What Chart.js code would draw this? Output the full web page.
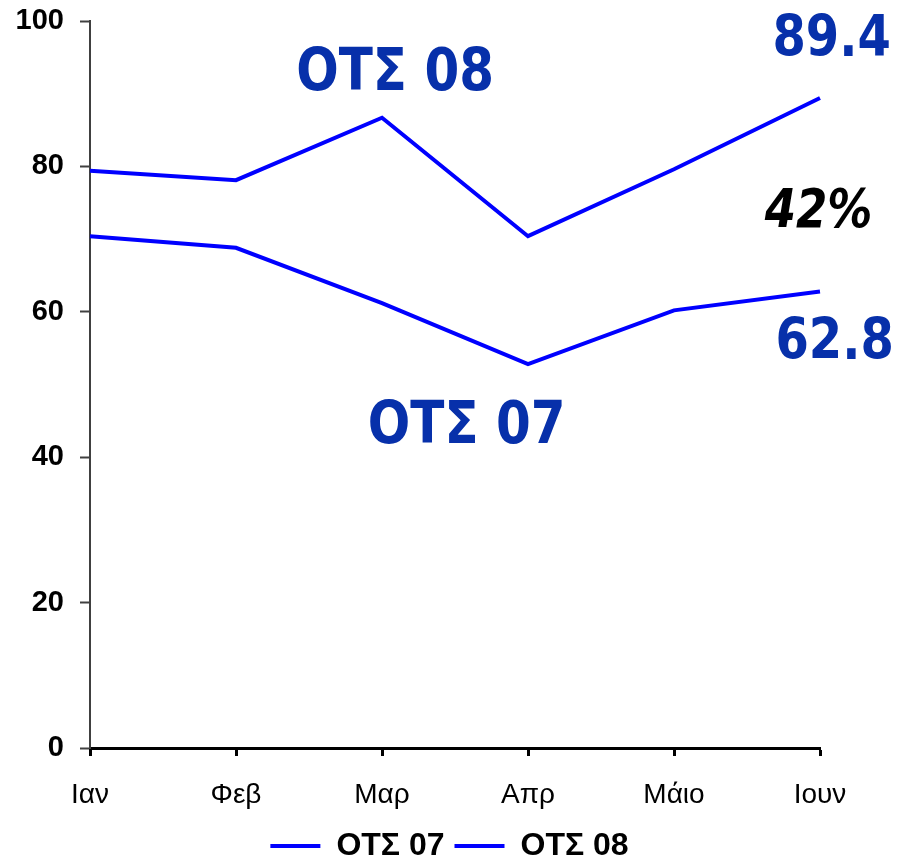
<!DOCTYPE html>
<html>
<head>
<meta charset="utf-8">
<script src="https://cdn.jsdelivr.net/npm/chart.js@4"></script>
<style>
  html, body { margin: 0; padding: 0; background: #fff; }
  #wrap { width: 899px; height: 856px; }
</style>
</head>
<body>
<div id="wrap"><canvas id="myChart" width="899" height="856"></canvas></div>
<script>
var months = ["Ιαν", "Φεβ", "Μαρ", "Απρ", "Μάιο", "Ιουν"];
var ots07 = [70.4, 68.8, 61.2, 52.8, 60.2, 62.8];
var ots08 = [79.4, 78.1, 86.7, 70.4, 79.6, 89.4];
var yTicks = [0, 20, 40, 60, 80, 100];
var noteTexts = ["ΟΤΣ 08", "ΟΤΣ 07", "89.4", "62.8", "42%"];

// text labels painted on top of the chart (position given in axis units)
var notesPlugin = {
    id: 'notes',
    afterDraw: function(chart) {
        var ctx = chart.ctx;
        var xs = chart.scales.x, ys = chart.scales.y;
        var spots = [
            { i: 2.09, v: 93.0, font: 'bold 50px "DejaVu Sans"', color: '#0730aa' },
            { i: 2.58, v: 44.4, font: 'bold 50px "DejaVu Sans"', color: '#0730aa' },
            { i: 5.08, v: 97.6, font: 'bold 48px "DejaVu Sans"', color: '#0730aa' },
            { i: 5.10, v: 55.9, font: 'bold 48px "DejaVu Sans"', color: '#0730aa' },
            { i: 4.99, v: 73.9, font: 'bold oblique 45px "DejaVu Sans"', color: '#000' }
        ];
        ctx.save();
        noteTexts.forEach(function(t, k) {
            var s = spots[k];
            var x = xs.left + (xs.right - xs.left) * s.i / (months.length - 1);
            var y = ys.getPixelForValue(s.v);
            ctx.save();
            ctx.translate(x, y);
            ctx.scale(1, 1.18);
            ctx.font = s.font;
            ctx.fillStyle = s.color;
            ctx.textAlign = 'center';
            ctx.textBaseline = 'middle';
            ctx.fillText(t, 0, 2);
            ctx.restore();
        });
        ctx.restore();
    }
};

var ctx = document.getElementById("myChart").getContext('2d');

var myChart = new Chart(ctx, {
    type: 'line',
    data: {
        labels: months,
        datasets: [{
            label: 'ΟΤΣ 07',
            data: ots07,
            borderColor: '#0000ff',
            backgroundColor: '#0000ff',
            borderWidth: 4,
            pointRadius: 0,
            tension: 0
        }, {
            label: 'ΟΤΣ 08',
            data: ots08,
            borderColor: '#0000ff',
            backgroundColor: '#0000ff',
            borderWidth: 4,
            pointRadius: 0,
            tension: 0
        }]
    },
    options: {
        responsive: false,
        animation: false,
        layout: { padding: { left: 0, right: 0, top: 21, bottom: -16 } },
        plugins: {
            tooltip: { enabled: false },
            legend: {
                position: 'bottom',
                labels: {
                    color: '#000',
                    font: { family: '"Liberation Sans", Arial', size: 32, weight: 'bold', lineHeight: 1 },
                    boxWidth: 50,
                    boxHeight: 4,
                    padding: 10,
                    generateLabels: function(chart) {
                        var items = Chart.defaults.plugins.legend.labels.generateLabels(chart);
                        items.forEach(function(it) { it.lineWidth = 0; });
                        return items;
                    }
                }
            }
        },
        scales: {
            x: {
                offset: false,
                border: { color: '#000', width: 3 },
                grid: { drawOnChartArea: false, drawTicks: true, tickLength: 8, tickWidth: 3, tickColor: '#000' },
                ticks: {
                    color: '#000',
                    padding: 22,
                    maxRotation: 0,
                    font: { family: '"Liberation Sans", Arial', size: 28 }
                },
                afterFit: function(scale) { scale.height = 72; }
            },
            y: {
                min: 0,
                max: 100,
                border: { color: '#404040', width: 2 },
                grid: { drawOnChartArea: false, drawTicks: true, tickLength: 10, tickWidth: 2, tickColor: '#404040' },
                afterBuildTicks: function(scale) {
                    scale.ticks = yTicks.map(function(v) { return { value: v }; });
                },
                ticks: {
                    color: '#000',
                    padding: 16,
                    font: { family: '"Liberation Sans", Arial', size: 29, weight: 'bold' }
                },
                afterFit: function(scale) {
                    scale.width = 90;
                    scale.paddingTop = 0;
                    scale.paddingBottom = 0;
                }
            },
            // empty right-hand axis only reserves the margin right of the plot
            yRight: {
                position: 'right',
                min: 0,
                max: 100,
                grid: { display: false },
                border: { display: false },
                ticks: { display: false },
                afterFit: function(scale) {
                    scale.width = 79;
                    scale.paddingTop = 0;
                    scale.paddingBottom = 0;
                }
            }
        }
    },
    plugins: [notesPlugin]
});
</script>
</body>
</html>
